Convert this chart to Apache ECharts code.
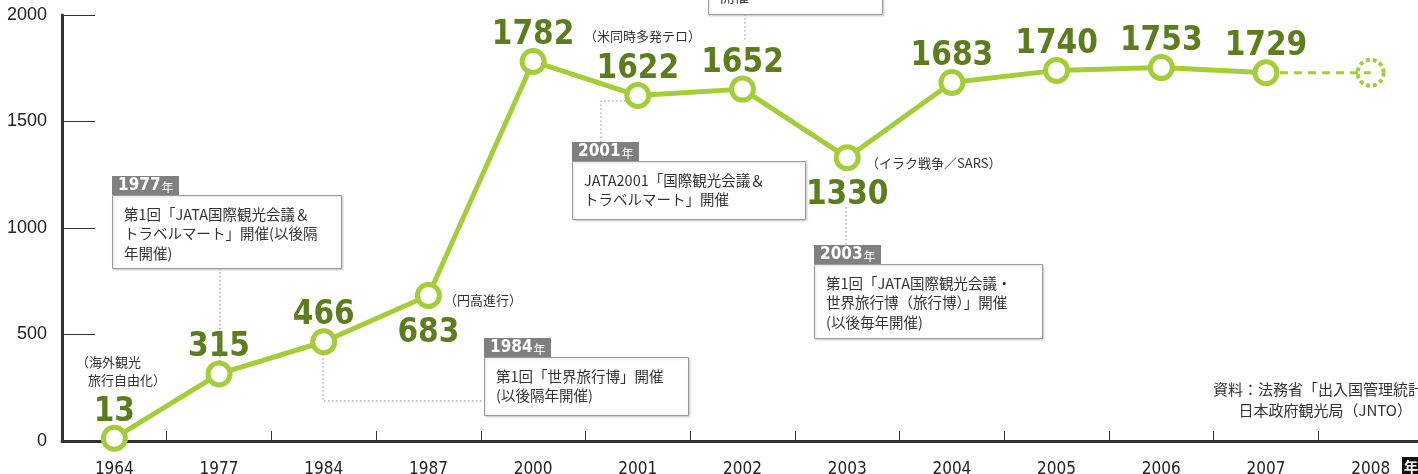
<!DOCTYPE html>
<html><head><meta charset="utf-8">
<script src="https://cdn.jsdelivr.net/npm/echarts@6/dist/echarts.min.js"></script>
<style>html,body{margin:0;padding:0;background:#fff}#c{width:1418px;height:474px}</style>
</head><body><div id="c"></div>
<script>
const categories = ['1964','1977','1984','1987','2000','2001','2002','2003','2004','2005','2006','2007','2008'];
const visitors = [13, 315, 466, 683, 1782, 1622, 1652, 1330, 1683, 1740, 1753, 1729, null];
const projection = [null, null, null, null, null, null, null, null, null, null, null, 1729, 1729];
const labelBelow = ['1987', '2003'];
const yMin = 0, yMax = 2000, yStep = 500;

const LIME = '#a4cd39', OLIVE = '#5c7c1d';
const JP = '"Noto Sans CJK JP", sans-serif';

const chart = echarts.init(document.getElementById('c'));

const mainData = visitors.map((v, i) => {
  if (labelBelow.includes(categories[i])) {
    return { value: v, label: { position: 'bottom', distance: 8 } };
  }
  return v;
});
const projData = projection.map((v, i) => (i === categories.length - 1 ? v : { value: v, symbol: 'none' }));

const graphics = [];
function box(x, y, w, h, tag, lines) {
  if (tag) {
    graphics.push({ type: 'rect', shape: { x: x, y: y - 19, width: 67, height: 19 }, style: { fill: '#808080' }, z: 10 });
    graphics.push({ type: 'text', style: { x: x + 6, y: y - 9, text: '{a|' + tag + '}{b|年}', verticalAlign: 'middle',
      rich: { a: { fontSize: 17, fontWeight: 'bold', fill: '#fff', fontFamily: '"DejaVu Sans Condensed", sans-serif' }, b: { fontSize: 12, fill: '#fff', fontFamily: JP, padding: [2, 0, 0, 1] } } }, z: 11 });
  }
  graphics.push({ type: 'rect', shape: { x: x + 0.5, y: y + 0.5, width: w, height: h }, style: { fill: '#fff', stroke: '#9a9a9a', lineWidth: 1, shadowBlur: 2, shadowColor: 'rgba(0,0,0,0.15)', shadowOffsetX: 1, shadowOffsetY: 1 }, z: 10 });
  lines.forEach((t, k) => {
    graphics.push({ type: 'text', style: { x: x + 12, y: y + 19 + k * 19.5, text: t, font: '14.5px ' + JP, fill: '#333', verticalAlign: 'middle' }, z: 11 });
  });
}
function dots(pts) {
  graphics.push({ type: 'polyline', shape: { points: pts }, style: { stroke: '#888', lineWidth: 1, lineDash: [1.5, 2.5], fill: null }, z: 5 });
}
function note(x, y, t, size, align) {
  graphics.push({ type: 'text', style: { x: x, y: y, text: t, font: (size || 13) + 'px ' + JP, fill: '#333', verticalAlign: 'middle', align: align || 'left' }, z: 11 });
}

dots([[220, 268], [220, 361]]);
dots([[323, 354], [323, 401], [484, 401]]);
dots([[601, 142], [601, 101], [626, 101]]);
dots([[846, 207], [846, 245]]);
dots([[745, 14], [745, 42]]);

box(112, 195, 229, 73, '1977', ['第1回「JATA国際観光会議＆', 'トラベルマート」開催(以後隔', '年開催)']);
box(484, 357, 204, 58, '1984', ['第1回「世界旅行博」開催', '(以後隔年開催)']);
box(572, 161, 233, 58, '2001', ['JATA2001「国際観光会議＆', 'トラベルマート」開催']);
box(814, 264, 228, 74, '2003', ['第1回「JATA国際観光会議・', '世界旅行博（旅行博）」開催', '(以後毎年開催)']);
box(708, -30, 174, 44, null, []);
note(720, -4, '開催', 14.5);

note(584, 36, '（米同時多発テロ）');
note(866, 163, '（イラク戦争／SARS）');
note(444, 300, '（円高進行）');
note(76, 362, '（海外観光');
note(88, 380, '旅行自由化）');
note(1213, 389, '資料：法務省「出入国管理統計」', 15);
note(1412, 410, '日本政府観光局（JNTO）', 15, 'right');

graphics.push({ type: 'rect', shape: { x: 1402, y: 457, width: 20, height: 20 }, style: { fill: '#111' }, z: 11 });
graphics.push({ type: 'text', style: { x: 1404, y: 467, text: '年', font: 'bold 14px ' + JP, fill: '#fff', verticalAlign: 'middle' }, z: 12 });

chart.setOption({
  animation: false,
  backgroundColor: '#fff',
  grid: { left: 62, top: 15, width: 1361, height: 426, outerBoundsMode: 'none', containLabel: false },
  xAxis: {
    type: 'category', data: categories, boundaryGap: true,
    axisLine: { lineStyle: { color: '#333', width: 3 } },
    axisTick: { show: true, inside: true, length: 10, interval: 0, lineStyle: { color: '#333', width: 1 } },
    axisLabel: { interval: 0, color: '#222', fontSize: 17, margin: 20, fontFamily: '"Liberation Sans Narrow", "DejaVu Sans Condensed", sans-serif' },
    splitLine: { show: false }
  },
  yAxis: {
    type: 'value', min: yMin, max: yMax, interval: yStep,
    axisLine: { show: true, lineStyle: { color: '#333', width: 3 } },
    axisTick: { show: true, inside: true, length: 33, lineStyle: { color: '#333', width: 1 } },
    axisLabel: { color: '#222', fontSize: 18, margin: 15, fontFamily: '"Liberation Sans", Arial, sans-serif', formatter: v => String(v) },
    splitLine: { show: false }
  },
  series: [
    {
      type: 'line', data: projData, z: 2,
      symbol: 'circle', symbolSize: 26,
      lineStyle: { color: LIME, width: 3, type: [8, 6] },
      itemStyle: { color: 'rgba(255,255,255,0)', borderColor: LIME, borderWidth: 4, borderType: [4, 3] },
      label: { show: false }
    },
    {
      type: 'line', data: mainData, z: 3,
      symbol: 'circle', symbolSize: 22,
      lineStyle: { color: LIME, width: 5 },
      itemStyle: { color: '#fff', borderColor: LIME, borderWidth: 5 },
      label: { show: true, position: 'top', distance: -4, color: OLIVE, fontSize: 33, fontWeight: 'bold',
        fontFamily: '"DejaVu Sans Condensed", "DejaVu Sans", sans-serif' }
    }
  ],
  graphic: graphics
});
</script>
</body></html>
